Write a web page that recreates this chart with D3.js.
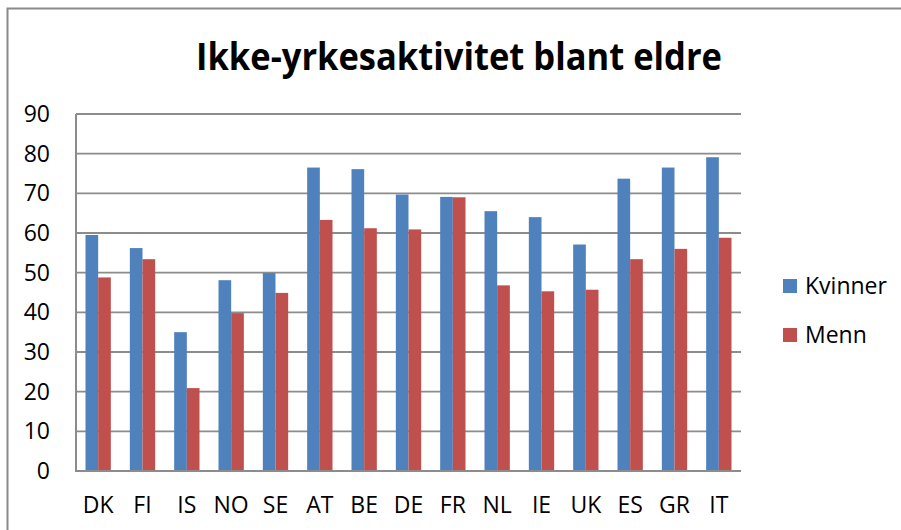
<!DOCTYPE html>
<html>
<head>
<meta charset="utf-8">
<script src="https://cdn.jsdelivr.net/npm/d3@7"></script>
<style>
  body { margin: 0; background: #fff; }
  text { font-family: "Open Sans", sans-serif; fill: #000; }
</style>
</head>
<body>
<script>
// data
const countries = ["DK", "FI", "IS", "NO", "SE", "AT", "BE", "DE", "FR", "NL", "IE", "UK", "ES", "GR", "IT"]
const kvinner = [59.5, 56.2, 35.0, 48.1, 49.9, 76.5, 76.1, 69.7, 69.1, 65.5, 64.0, 57.1, 73.7, 76.5, 79.1]
const menn = [48.8, 53.4, 20.9, 39.8, 44.9, 63.3, 61.2, 60.9, 69.0, 46.8, 45.3, 45.7, 53.4, 56.0, 58.8]
const seriesNames = ["Kvinner", "Menn"]
const colors = ["#4F81BD", "#C0504D"]
const yTicks = [0, 10, 20, 30, 40, 50, 60, 70, 80, 90]
const title = "Ikke-yrkesaktivitet blant eldre"

const width = 901
const height = 530
const plot = {left: 76, right: 741, top: 114, bottom: 471}

const svg = d3.select("body").append("svg")
    .attr("width", width)
    .attr("height", height)

// outer chart frame (only top and left edges show in the crop)
svg.append("path")
    .attr("d", `M7.5,${height} V8.5 H${width}`)
    .attr("fill", "none")
    .attr("stroke", "#8a8a8a")
    .attr("stroke-width", 2)

const x0 = d3.scaleBand()
    .domain(countries)
    .range([plot.left, plot.right])
    .paddingInner(1.5 / 3.5)
    .paddingOuter(0.75 / 3.5)

const x1 = d3.scaleBand()
    .domain(seriesNames)
    .range([0, x0.bandwidth()])

const y = d3.scaleLinear()
    .domain([0, 90])
    .range([plot.bottom, plot.top])

// gridlines
svg.append("g")
  .selectAll("line")
  .data(yTicks.filter(d => d > 0))
  .join("line")
    .attr("x1", plot.left)
    .attr("x2", plot.right)
    .attr("y1", d => y(d))
    .attr("y2", d => y(d))
    .attr("stroke", "#8c8c8c")
    .attr("stroke-width", 1.8)

// y tick labels
svg.append("g")
  .selectAll("text")
  .data(yTicks)
  .join("text")
    .attr("x", 50)
    .attr("y", d => y(d))
    .attr("dy", "0.35em")
    .attr("text-anchor", "end")
    .attr("font-size", 23)
    .text(d => d)

// bars
const rows = countries.map((c, i) => ({country: c, values: [kvinner[i], menn[i]]}))

svg.append("g")
  .selectAll("g")
  .data(rows)
  .join("g")
    .attr("transform", d => `translate(${x0(d.country)},0)`)
  .selectAll("rect")
  .data(d => d.values.map((v, k) => ({key: seriesNames[k], value: v, k})))
  .join("rect")
    .attr("x", d => x1(d.key))
    .attr("y", d => y(d.value))
    .attr("width", x1.bandwidth())
    .attr("height", d => y(0) - y(d.value))
    .attr("fill", d => colors[d.k])

// axis lines
svg.append("path")
    .attr("d", `M${plot.left},${plot.top} V${plot.bottom} H${plot.right}`)
    .attr("fill", "none")
    .attr("stroke", "#8c8c8c")
    .attr("stroke-width", 2)

// category labels
svg.append("g")
  .selectAll("text")
  .data(countries)
  .join("text")
    .attr("x", d => x0(d) + x0.bandwidth() / 2)
    .attr("y", 505)
    .attr("dy", "0.35em")
    .attr("text-anchor", "middle")
    .attr("font-size", 23)
    .text(d => d)

// title
svg.append("text")
    .attr("x", 459)
    .attr("y", 70)
    .attr("text-anchor", "middle")
    .attr("font-size", 38)
    .attr("font-weight", "bold")
    .attr("textLength", 526)
    .attr("lengthAdjust", "spacingAndGlyphs")
    .text(title)

// legend
const legend = svg.append("g")
  .selectAll("g")
  .data(seriesNames)
  .join("g")
    .attr("transform", (d, i) => `translate(783,${279 + i * 49})`)

legend.append("rect")
    .attr("width", 14)
    .attr("height", 14)
    .attr("fill", (d, i) => colors[i])

legend.append("text")
    .attr("x", 22)
    .attr("y", 7)
    .attr("dy", "0.35em")
    .attr("font-size", 23)
    .text(d => d)
</script>
</body>
</html>
